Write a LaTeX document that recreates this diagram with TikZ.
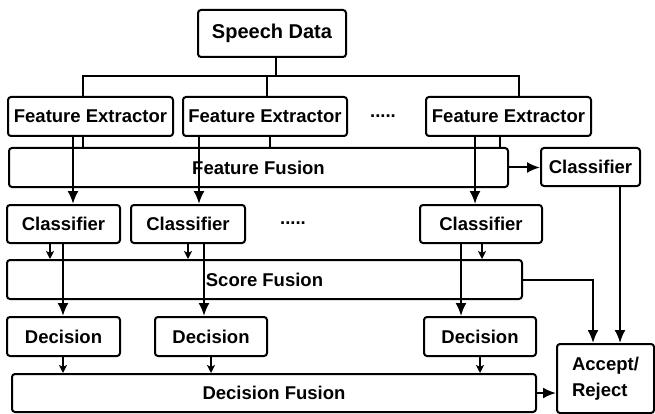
\documentclass[tikz,border=0pt]{standalone}
\usepackage{fontspec}
\setmainfont{Liberation Sans}
\usetikzlibrary{arrows.meta}

\tikzset{
  box/.style={draw, line width=2pt, rounded corners=3pt, inner sep=0pt,
    font=\bfseries\fontsize{18.5}{26}\selectfont},
  link/.style={line width=2pt},
  bigarrow/.style={line width=2pt, -{Latex[length=13pt,width=11pt]}},
  smallarrow/.style={line width=1.6pt, -{Stealth[length=8pt,width=8pt,inset=2pt]}},
}

\begin{document}
\begin{tikzpicture}[x=1pt, y=-1pt]
  \useasboundingbox (0,0) rectangle (655,414);

  % Input and feature extraction
  \node[box, minimum width=148pt, minimum height=47pt, font=\bfseries\fontsize{20}{24}\selectfont] (sd) at (272,33.5) {Speech Data};
  \node[box, minimum width=165pt, minimum height=39pt] (fe1) at (90.5,116.5) {Feature Extractor};
  \node[box, minimum width=164pt, minimum height=39pt] (fe2) at (265,116.5) {Feature Extractor};
  \node[box, minimum width=165pt, minimum height=39pt] (fe3) at (508.5,116.5) {Feature Extractor};
  \node[font=\bfseries\fontsize{18.5}{20}\selectfont] (dots1) at (383,116) {.....};

  % Feature level fusion
  \node[box, minimum width=499pt, minimum height=39pt] (ff) at (258.5,167.5) {Feature Fusion};
  \node[box, minimum width=99pt, minimum height=38pt] (cl4) at (590.5,167) {Classifier};

  % Classifiers
  \node[box, minimum width=113pt, minimum height=38pt] (cl1) at (63.5,224) {Classifier};
  \node[box, minimum width=114pt, minimum height=38pt] (cl2) at (188,224) {Classifier};
  \node[box, minimum width=122pt, minimum height=38pt] (cl3) at (481,224) {Classifier};
  \node[font=\bfseries\fontsize{18.5}{20}\selectfont] (dots2) at (293,223) {.....};

  % Score level fusion
  \node[box, minimum width=515pt, minimum height=39pt] (sf) at (264.5,279.5) {Score Fusion};

  % Decisions
  \node[box, minimum width=113pt, minimum height=39pt] (d1) at (63.5,336.5) {Decision};
  \node[box, minimum width=112pt, minimum height=39pt] (d2) at (211,336.5) {Decision};
  \node[box, minimum width=112pt, minimum height=39pt] (d3) at (480,336.5) {Decision};

  % Decision level fusion
  \node[box, minimum width=524pt, minimum height=38pt] (df) at (274,393) {Decision Fusion};
  \node[box, minimum width=97pt, minimum height=69pt, align=left] (ar) at (605.5,378.5) {Accept/\\Reject};

  % Speech data bus
  \coordinate (bus) at (0,76);
  \draw[link] ([xshift=4pt]sd.south) -- ([xshift=4pt]sd.south |- bus);
  \draw[link] ([xshift=-7.5pt]fe1.north) -- ([xshift=-7.5pt]fe1.north |- bus)
    -- ([xshift=10.5pt]fe3.north |- bus) -- ([xshift=10.5pt]fe3.north);
  \draw[link] ([xshift=2pt]fe2.north) -- ([xshift=2pt]fe2.north |- bus);

  % Extractors into fusion and classifiers
  \draw[link] ([xshift=-7.5pt]fe1.south) -- ([xshift=-7.5pt]fe1.south |- ff.north);
  \draw[link] ([xshift=5pt]fe2.south) -- ([xshift=5pt]fe2.south |- ff.north);
  \draw[link] ([xshift=-8.5pt]fe3.south) -- ([xshift=-8.5pt]fe3.south |- ff.north);
  \draw[bigarrow] ([xshift=-17.5pt]fe1.south) -- ([xshift=-17.5pt]fe1.south |- cl1.north);
  \draw[bigarrow] ([xshift=-66pt]fe2.south) -- ([xshift=-66pt]fe2.south |- cl2.north);
  \draw[bigarrow] ([xshift=-33.5pt]fe3.south) -- ([xshift=-33.5pt]fe3.south |- cl3.north);
  \draw[bigarrow] (ff.east) -- (ff.east -| cl4.west);

  % Classifiers into score fusion and decisions
  \draw[smallarrow] ([xshift=-13.5pt]cl1.south) -- ([xshift=-13.5pt]cl1.south |- sf.north);
  \draw[smallarrow] (cl2.south) -- (cl2.south |- sf.north);
  \draw[smallarrow] ([xshift=1pt]cl3.south) -- ([xshift=1pt]cl3.south |- sf.north);
  \draw[bigarrow] ([xshift=-0.5pt]cl1.south) -- ([xshift=-0.5pt]cl1.south |- d1.north);
  \draw[bigarrow] ([xshift=16pt]cl2.south) -- ([xshift=16pt]cl2.south |- d2.north);
  \draw[bigarrow] ([xshift=-20pt]cl3.south) -- ([xshift=-20pt]cl3.south |- d3.north);

  % Decisions into decision fusion
  \draw[smallarrow] ([xshift=-0.5pt]d1.south) -- ([xshift=-0.5pt]d1.south |- df.north);
  \draw[smallarrow] (d2.south) -- (d2.south |- df.north);
  \draw[smallarrow] (d3.south) -- (d3.south |- df.north);

  % Final accept / reject
  \draw[bigarrow] ([xshift=29.5pt]cl4.south) -- ([xshift=29.5pt]cl4.south |- ar.north);
  \draw[bigarrow] (sf.east) -| ([xshift=-12.5pt]ar.north);
  \draw[bigarrow] (df.east) -- (df.east -| ar.west);
\end{tikzpicture}
\end{document}
